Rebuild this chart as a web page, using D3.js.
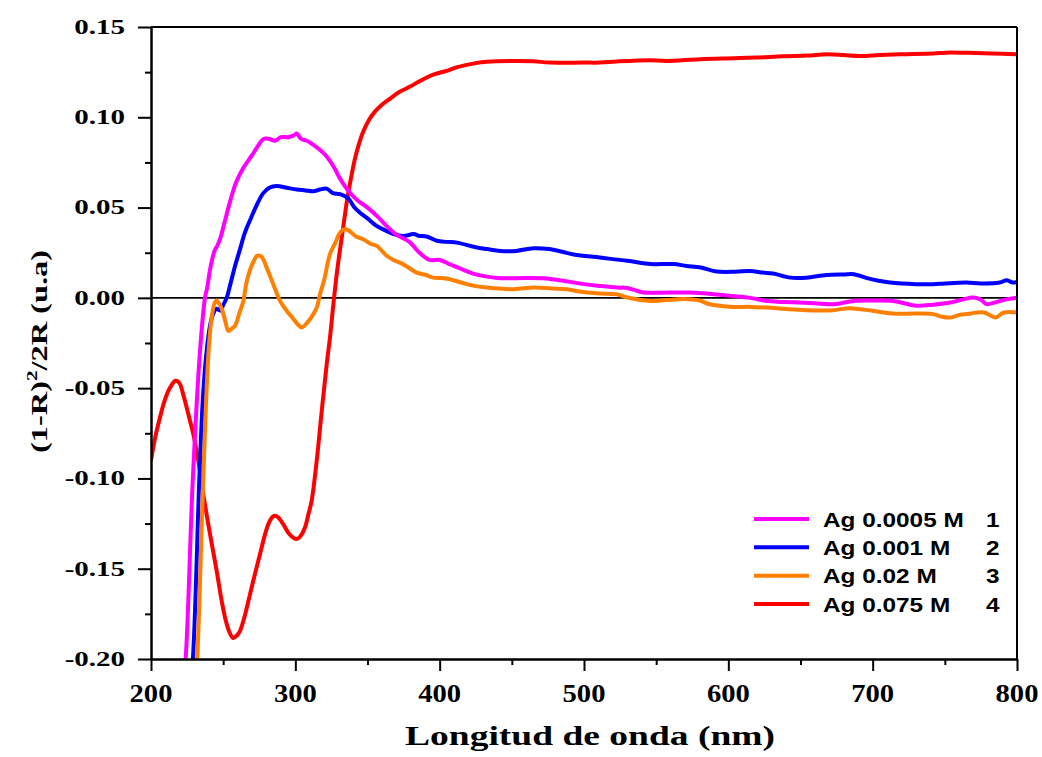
<!DOCTYPE html>
<html>
<head>
<meta charset="utf-8">
<script src="https://cdn.jsdelivr.net/npm/d3@7/dist/d3.min.js"></script>
<style>
  html, body { margin: 0; padding: 0; background: #fff; }
  svg { display: block; }
</style>
</head>
<body>
<svg id="chart" width="1042" height="757"></svg>
<script>
// Kubelka-Munk style remission function vs wavelength for four Ag concentrations
const xTickValues = [200, 300, 400, 500, 600, 700, 800];
const xTickLabels = ["200", "300", "400", "500", "600", "700", "800"];
const xMinorTicks = [250, 350, 450, 550, 650, 750];
const yTickValues = [0.15, 0.10, 0.05, 0.00, -0.05, -0.10, -0.15, -0.20];
const yTickLabels = ["0.15", "0.10", "0.05", "0.00", "-0.05", "-0.10", "-0.15", "-0.20"];
const yMinorTicks = [0.125, 0.075, 0.025, -0.025, -0.075, -0.125, -0.175];

const seriesNames = ["Ag 0.0005 M", "Ag 0.001 M", "Ag 0.02 M", "Ag 0.075 M"];
const seriesNumbers = ["1", "2", "3", "4"];
const seriesColors = ["#ff00ff", "#0000ff", "#ff8000", "#ff0000"];

// [wavelength nm, (1-R)^2/2R]
const ag00005 = [[222,-0.215],[224,-0.20],[229,-0.10],[234,-0.029],[237.4,0.0],[239,0.006],[241,0.016],[244,0.026],[246,0.029],[248,0.033],[251,0.042],[255,0.054],[259,0.064],[264,0.072],[270,0.079],[274,0.084],[278,0.088],[282,0.088],[286,0.087],[290,0.089],[295,0.089],[299,0.090],[301,0.091],[304,0.088],[308,0.087],[312,0.085],[317,0.082],[322,0.078],[327,0.072],[331,0.066],[337,0.059],[343,0.054],[350,0.050],[357,0.045],[363,0.040],[370,0.035],[379,0.031],[386,0.025],[393,0.021],[400,0.021],[406,0.019],[412,0.017],[425,0.013],[440,0.011],[460,0.011],[472,0.0108],[483,0.0098],[500,0.0076],[511,0.0066],[523,0.0057],[530,0.0055],[541,0.003],[560,0.003],[573,0.0029],[590,0.002],[603,0.001],[615,0.0],[627,-0.0017],[645,-0.0025],[660,-0.003],[673,-0.0035],[687,-0.0017],[700,-0.0015],[714,-0.0017],[722,-0.003],[730,-0.0044],[742,-0.0038],[754,-0.0026],[762,-0.001],[770,0.0002],[775,-0.001],[779,-0.0035],[785,-0.0025],[792,-0.001],[800,0.0]];

const ag0001 = [[227,-0.215],[229,-0.20],[233.5,-0.10],[236,-0.055],[238.6,-0.029],[241,-0.015],[243,-0.009],[245.5,-0.006],[248,-0.007],[250,-0.004],[252.4,0.0],[255,0.0076],[258,0.017],[261.7,0.027],[265,0.036],[268.6,0.043],[273,0.051],[277.8,0.058],[282,0.061],[287,0.062],[294,0.061],[301,0.060],[307,0.0595],[312.5,0.059],[317,0.060],[321.7,0.0605],[326,0.058],[331,0.0574],[336,0.0555],[338,0.0537],[341,0.050],[345,0.047],[350,0.044],[356,0.040],[363,0.0371],[368,0.0353],[375,0.0343],[382,0.0353],[386,0.0343],[391,0.034],[398,0.0316],[405,0.031],[412,0.0306],[425,0.028],[433,0.027],[442,0.026],[453,0.026],[465,0.0275],[476,0.027],[485,0.0255],[493,0.024],[511,0.0223],[530,0.0205],[546,0.0187],[553,0.0187],[562,0.0187],[571,0.0177],[581,0.0168],[592,0.0146],[605,0.0145],[615,0.0149],[624,0.014],[631,0.0135],[643,0.0112],[654,0.0112],[668,0.0127],[680,0.013],[687,0.0131],[696,0.0109],[704,0.0095],[712,0.0085],[730,0.0076],[742,0.0076],[750,0.008],[765,0.0085],[775,0.008],[788,0.0085],[793,0.0098],[797,0.0085],[800,0.0088]];

const ag002 = [[230.5,-0.215],[232,-0.20],[236.2,-0.10],[239.7,-0.032],[242,-0.011],[244,-0.003],[245.5,-0.0015],[247,-0.003],[249,-0.006],[251.5,-0.013],[253.6,-0.0183],[256,-0.017],[258.2,-0.0155],[261,-0.009],[264,-0.0017],[266,0.008],[268.6,0.0155],[271,0.020],[273.5,0.0233],[276.7,0.0227],[280,0.017],[284.7,0.0076],[289.4,-0.0017],[294,-0.0072],[298,-0.011],[301.5,-0.0145],[304.4,-0.0164],[309,-0.013],[312.5,-0.009],[315,-0.005],[317.1,0.002],[320,0.010],[324,0.0242],[328,0.031],[331,0.0362],[334,0.038],[336.7,0.0375],[342,0.034],[347,0.0325],[352,0.030],[356.4,0.0288],[360,0.026],[363.3,0.0233],[368,0.021],[372.5,0.0195],[378,0.017],[384,0.014],[390,0.0128],[395.6,0.0112],[401,0.011],[407,0.0103],[418.7,0.0076],[425,0.0065],[432.6,0.0057],[451,0.0048],[465,0.0057],[478,0.0052],[488,0.0048],[497,0.0035],[504,0.0029],[511,0.0024],[522.6,0.002],[530,0.0002],[546,-0.0017],[557,-0.0012],[569,-0.0007],[580,-0.0015],[587,-0.0035],[603.5,-0.005],[615,-0.005],[626.6,-0.0054],[640,-0.0062],[654,-0.0068],[672.7,-0.0068],[684,-0.0057],[700,-0.0072],[714,-0.0087],[730,-0.0087],[742,-0.009],[748,-0.0105],[754,-0.0109],[760,-0.0095],[765,-0.009],[777,-0.0081],[781,-0.0095],[785,-0.0109],[791,-0.0081],[800,-0.0081]];

const ag0075 = [[200,-0.090],[203,-0.077],[206.2,-0.0663],[209,-0.058],[212,-0.0515],[214.5,-0.048],[216.6,-0.046],[218.5,-0.0462],[220.1,-0.0478],[222.5,-0.054],[224.7,-0.0607],[227,-0.068],[229.3,-0.0755],[232.8,-0.0903],[236.2,-0.1087],[240.9,-0.1309],[245.5,-0.1512],[249,-0.168],[251.3,-0.177],[254,-0.1845],[257,-0.1884],[259.5,-0.187],[261.7,-0.1844],[265,-0.176],[268.6,-0.1641],[272,-0.153],[275.5,-0.142],[279,-0.131],[281.3,-0.1253],[284,-0.1215],[285.9,-0.1207],[288,-0.1215],[291.6,-0.1253],[296,-0.131],[300.9,-0.1336],[303.5,-0.132],[306.7,-0.1272],[309,-0.120],[311.3,-0.1124],[314.8,-0.0903],[318.3,-0.0626],[321.7,-0.037],[324,-0.022],[326.3,-0.004],[328.5,0.012],[331,0.027],[333.5,0.041],[336,0.055],[338.5,0.066],[341,0.076],[344,0.085],[347,0.092],[351,0.0985],[355,0.1030],[360,0.1070],[366,0.1105],[372,0.1140],[379.5,0.117],[385,0.1195],[391,0.122],[397,0.124],[404.8,0.1257],[411,0.1275],[418.7,0.129],[425,0.130],[432.6,0.1307],[453.4,0.1312],[465,0.131],[476.4,0.1303],[499.5,0.1303],[511,0.1303],[522.6,0.1309],[545.7,0.1316],[557,0.1312],[580.4,0.1322],[603.5,0.1327],[620,0.1331],[638,0.1338],[655,0.1342],[668,0.1349],[680,0.1345],[691,0.134],[705,0.1345],[719,0.1349],[742,0.1353],[751,0.1358],[765,0.1357],[777,0.1355],[790,0.1352],[800,0.1349]];

const seriesData = [ag00005, ag0001, ag002, ag0075];
// red first so the steep rises of the other curves sit on top of it
const drawOrder = [3, 1, 2, 0];

const margin = { left: 151, top: 27 };
const width = 866, height = 632;

const svg = d3.select("#chart");
const g = svg.append("g").attr("transform", `translate(${margin.left},${margin.top})`);

const x = d3.scaleLinear().domain([200, 800]).range([0, width]);
const y = d3.scaleLinear().domain([-0.20, 0.15]).range([height, 0]);

svg.append("defs").append("clipPath").attr("id", "plotClip")
  .append("rect").attr("x", 0).attr("y", 0).attr("width", width).attr("height", height);

// zero reference line
g.append("line")
  .attr("x1", 0).attr("x2", width)
  .attr("y1", y(0)).attr("y2", y(0))
  .attr("stroke", "#000").attr("stroke-width", 1.6);

const line = d3.line()
  .x(d => x(d[0]))
  .y(d => y(d[1]))
  .curve(d3.curveCatmullRom.alpha(0.5));

const curves = g.append("g").attr("clip-path", "url(#plotClip)");
drawOrder.forEach(i => {
  curves.append("path")
    .datum(seriesData[i])
    .attr("fill", "none")
    .attr("stroke", seriesColors[i])
    .attr("stroke-width", 4)
    .attr("stroke-linejoin", "round")
    .attr("d", line);
});

// axes: major and minor ticks, labels drawn separately
function styleAxis(sel) {
  sel.select(".domain").attr("stroke", "#000").attr("stroke-width", 2);
  sel.selectAll(".tick line").attr("stroke", "#000").attr("stroke-width", 2);
  sel.selectAll(".tick text").remove();
}

g.append("g").attr("transform", `translate(0,${height})`)
  .call(d3.axisBottom(x).tickValues(xTickValues).tickSize(12).tickSizeOuter(0).tickFormat(""))
  .call(styleAxis);
g.append("g").attr("transform", `translate(0,${height})`)
  .call(d3.axisBottom(x).tickValues(xMinorTicks).tickSize(6).tickSizeOuter(0).tickFormat(""))
  .call(styleAxis);
g.append("g")
  .call(d3.axisLeft(y).tickValues(yTickValues).tickSize(13).tickSizeOuter(0).tickFormat(""))
  .call(styleAxis);
g.append("g")
  .call(d3.axisLeft(y).tickValues(yMinorTicks).tickSize(6).tickSizeOuter(0).tickFormat(""))
  .call(styleAxis);

// top and right frame
g.append("line").attr("x1", 0).attr("x2", width).attr("y1", 0).attr("y2", 0)
  .attr("stroke", "#000").attr("stroke-width", 2);
g.append("line").attr("x1", width).attr("x2", width).attr("y1", 0).attr("y2", height)
  .attr("stroke", "#000").attr("stroke-width", 2);

const serif = "'Liberation Serif', 'Times New Roman', serif";
const sans = "'Liberation Sans', Arial, sans-serif";

// x tick labels
g.append("g").selectAll("text")
  .data(xTickValues)
  .join("text")
  .attr("transform", d => `translate(${x(d)},${height + 42.5}) scale(1.1,1)`)
  .attr("text-anchor", "middle")
  .attr("font-family", serif).attr("font-weight", "bold").attr("font-size", 26)
  .attr("fill", "#000")
  .text((d, i) => xTickLabels[i]);

// y tick labels
g.append("g").selectAll("text")
  .data(yTickValues)
  .join("text")
  .attr("transform", d => `translate(-26,${y(d)}) scale(1.45,1)`)
  .attr("text-anchor", "end")
  .attr("dy", "0.34em")
  .attr("font-family", serif).attr("font-weight", "bold").attr("font-size", 20)
  .attr("fill", "#000")
  .text((d, i) => yTickLabels[i]);

// axis titles
svg.append("text")
  .attr("x", 590).attr("y", 745)
  .attr("text-anchor", "middle")
  .attr("font-family", serif).attr("font-weight", "bold").attr("font-size", 28)
  .attr("textLength", 370).attr("lengthAdjust", "spacingAndGlyphs")
  .attr("fill", "#000")
  .text("Longitud de onda (nm)");

const yTitle = svg.append("text")
  .attr("transform", "translate(47,453) rotate(-90)")
  .attr("text-anchor", "start")
  .attr("font-family", serif).attr("font-weight", "bold").attr("font-size", 23)
  .attr("textLength", 203).attr("lengthAdjust", "spacingAndGlyphs")
  .attr("fill", "#000");
yTitle.append("tspan").text("(1-R)");
yTitle.append("tspan").attr("font-size", 15).attr("dy", -10).text("2");
yTitle.append("tspan").attr("dy", 10).text("/2R (u.a)");

// legend
const legendRows = [519, 547.3, 575.7, 604];
const legend = svg.append("g");
seriesNames.forEach((name, i) => {
  const ly = legendRows[i];
  legend.append("line")
    .attr("x1", 754).attr("x2", 809).attr("y1", ly).attr("y2", ly)
    .attr("stroke", seriesColors[i]).attr("stroke-width", 4);
  legend.append("text")
    .attr("transform", `translate(823,${ly + 7.5}) scale(1.16,1)`)
    .attr("font-family", sans).attr("font-weight", "bold").attr("font-size", 21)
    .attr("fill", "#000")
    .text(name);
  legend.append("text")
    .attr("transform", `translate(986,${ly + 7.5}) scale(1.16,1)`)
    .attr("font-family", sans).attr("font-weight", "bold").attr("font-size", 21)
    .attr("fill", "#000")
    .text(seriesNumbers[i]);
});
</script>
</body>
</html>
